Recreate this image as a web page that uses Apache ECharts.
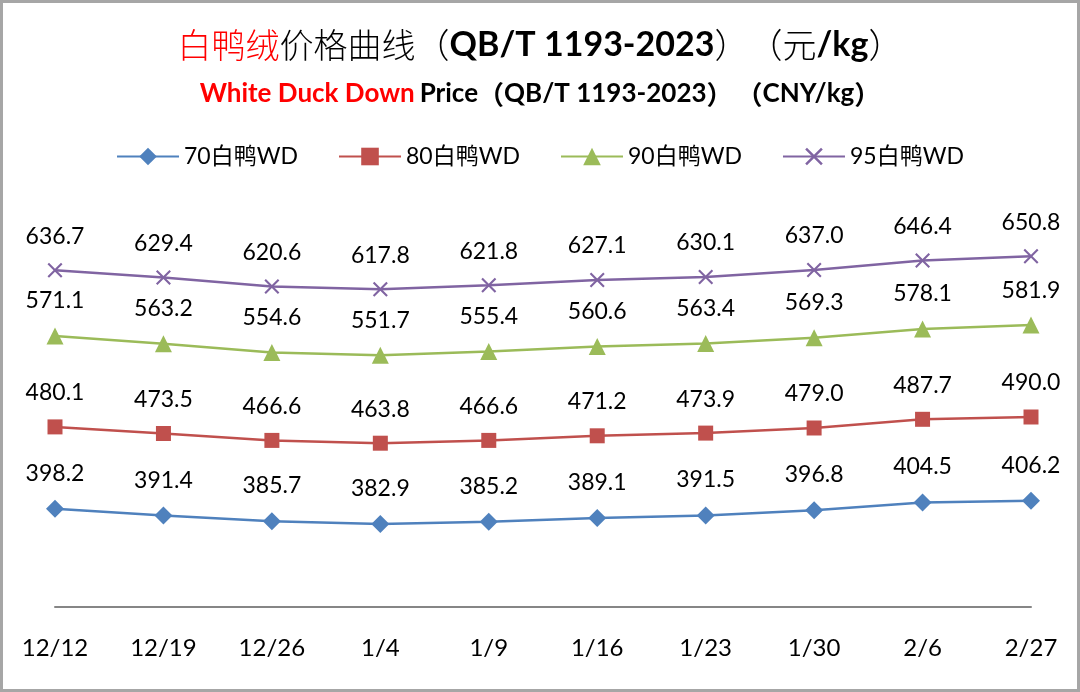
<!DOCTYPE html>
<html>
<head>
<meta charset="utf-8">
<script src="https://cdn.jsdelivr.net/npm/echarts@6/dist/echarts.min.js"></script>
<style>
html,body{margin:0;padding:0;background:#fff;}
#c{width:1080px;height:692px;}
</style>
</head>
<body>
<div id="c"></div>
<script>
const categories = ['12/12','12/19','12/26','1/4','1/9','1/16','1/23','1/30','2/6','2/27'];
const seriesNames = ['70白鸭WD','80白鸭WD','90白鸭WD','95白鸭WD'];
const s70 = [398.2,391.4,385.7,382.9,385.2,389.1,391.5,396.8,404.5,406.2];
const s80 = [480.1,473.5,466.6,463.8,466.6,471.2,473.9,479.0,487.7,490.0];
const s90 = [571.1,563.2,554.6,551.7,555.4,560.6,563.4,569.3,578.1,581.9];
const s95 = [636.7,629.4,620.6,617.8,621.8,627.1,630.1,637.0,646.4,650.8];

const FONT = 'Lato, "Noto Sans CJK SC", sans-serif';
const CJK = '"Noto Sans CJK SC", sans-serif';
const xPath = 'path://M0,1L1,0L5,4L9,0L10,1L6,5L10,9L9,10L5,6L1,10L0,9L4,5Z';

const colors = ['#4F81BD','#C0504D','#9BBB59','#8064A2'];
const symbols = ['diamond','rect','triangle', xPath];
const sizes = [18,15,17,15];
const datas = [s70,s80,s90,s95];

const chart = echarts.init(document.getElementById('c'));
chart.setOption({
  animation:false,
  graphic:[{
    type:'rect', shape:{x:1.5,y:1.5,width:1077,height:689},
    style:{fill:'none',stroke:'#a6a6a6',lineWidth:3}, silent:true
  }],
  title:[{
    left:'center', top:23,
    text:'{r|白鸭绒}{n|价格曲线}{p|（}{b|QB/T 1193-2023}{p|）}{p|（}{n|元}{b|/kg}{p|）}',
    textStyle:{rich:{
      r:{color:'#ff0000',fontSize:34,fontFamily:CJK,fontWeight:300},
      n:{color:'#000',fontSize:34,fontFamily:CJK,fontWeight:300},
      p:{color:'#000',fontSize:34,fontFamily:CJK,fontWeight:300},
      b:{color:'#000',fontSize:34,fontWeight:'bold',fontFamily:FONT}
    }}
  },{
    left:'center', top:76,
    text:'{r|White Duck Down} {b|Price}{p|（}{b|QB/T 1193-2023}{p|）}{s| }{p|（}{b|CNY/kg}{p|）}',
    textStyle:{rich:{
      r:{color:'#ff0000',fontSize:26,fontWeight:'bold',fontFamily:FONT},
      b:{color:'#000',fontSize:26,fontWeight:'bold',fontFamily:FONT},
      p:{color:'#000',fontSize:26,fontWeight:'bold',fontFamily:CJK},
      s:{fontSize:26,width:4}
    }}
  }],
  legend:{
    top:140, left:'center', itemWidth:62, itemHeight:22, itemGap:40,
    textStyle:{fontSize:23,color:'#000',fontFamily:FONT},
    data:seriesNames
  },
  grid:{left:55,right:49,top:207,bottom:85},
  xAxis:{
    type:'category', data:categories, boundaryGap:false,
    axisLine:{lineStyle:{color:'#868686',width:2}},
    axisTick:{show:false},
    axisLabel:{fontSize:24,color:'#000',margin:29,fontFamily:FONT}
  },
  yAxis:{
    type:'value', min:300, max:700, show:false,
    splitLine:{show:false}
  },
  series: seriesNames.map((n,i)=>({
    name:n, type:'line', data:datas[i],
    symbol:symbols[i], symbolSize:sizes[i],
    lineStyle:{color:colors[i],width:2.5},
    itemStyle:{color:colors[i]},
    label:{show:true,position:'top',distance:15,fontSize:23,color:'#000',fontFamily:FONT,
      formatter:p=>p.value.toFixed(1)}
  }))
});
</script>
</body>
</html>
